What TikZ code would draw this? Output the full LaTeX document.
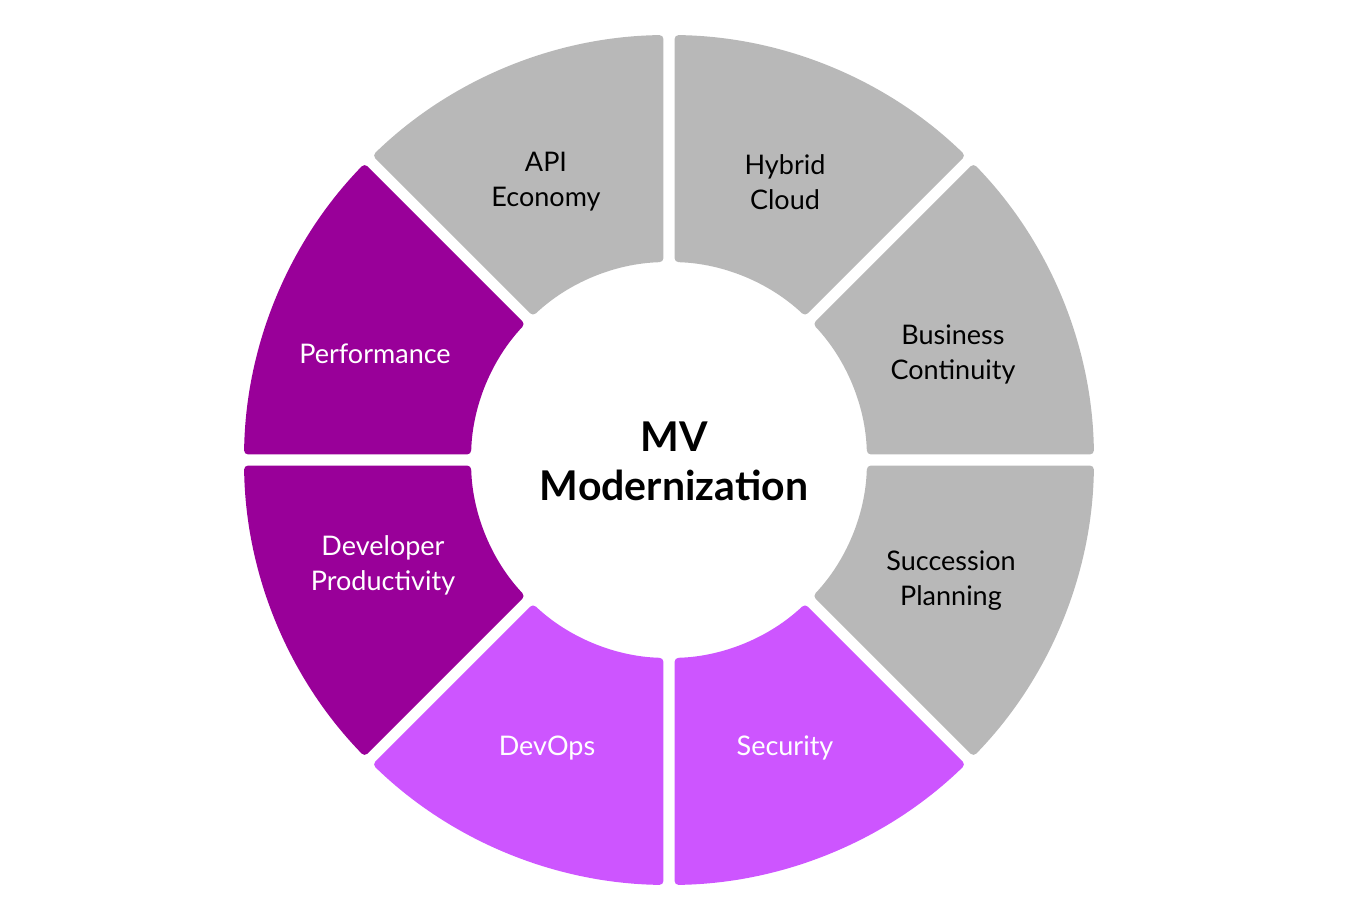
\documentclass[tikz,border=0pt]{standalone}
\usepackage{fontspec}
\setmainfont{Lato}
\definecolor{segGray}{HTML}{B8B8B8}
\definecolor{segDark}{HTML}{990099}
\definecolor{segLight}{HTML}{CD55FF}
\tikzset{
  seglabel/.style={align=center, font=\fontsize{27}{35}\selectfont, inner sep=0pt},
  darktext/.style={seglabel, text=black},
  lighttext/.style={seglabel, text=white},
  title/.style={align=center, font=\fontsize{41}{49}\selectfont\bfseries, inner sep=0pt}
}
\newcommand{\ringseg}[3]{%
  \fill[#3, rounded corners=4pt] ($(c)+({#1+0.75}:425pt)$) arc[start angle={#1+0.75}, end angle={#2-0.75}, radius=425pt]
    -- ($(c)+({#2-1.6}:198pt)$) arc[start angle={#2-1.6}, end angle={#1+1.6}, radius=198pt] -- cycle;}
\usetikzlibrary{calc}
\begin{document}
\begin{tikzpicture}[x=1pt,y=1pt]
\useasboundingbox (0,0) rectangle (1350,920);
\coordinate (c) at (669,460);
\ringseg{0}{45}{segGray}
\ringseg{45}{90}{segGray}
\ringseg{90}{135}{segGray}
\ringseg{135}{180}{segDark}
\ringseg{180}{225}{segDark}
\ringseg{225}{270}{segLight}
\ringseg{270}{315}{segLight}
\ringseg{315}{360}{segGray}
\node[title] (t) at (674,459) {MV\\Modernization};
\node[darktext] (api) at (546,738) {API\\Economy};
\node[darktext] (hc) at (785,738) {Hybrid\\Cloud};
\node[darktext] (bc) at (953,566) {Business\\Continuity};
\node[darktext] (sp) at (951,339) {Succession\\Planning};
\node[lighttext] (perf) at (375,566) {Performance};
\node[lighttext] (dp) at (383,355) {Developer\\Productivity};
\node[lighttext] (dev) at (547,172) {DevOps};
\node[lighttext] (sec) at (785,172) {Security};
\end{tikzpicture}
\end{document}
